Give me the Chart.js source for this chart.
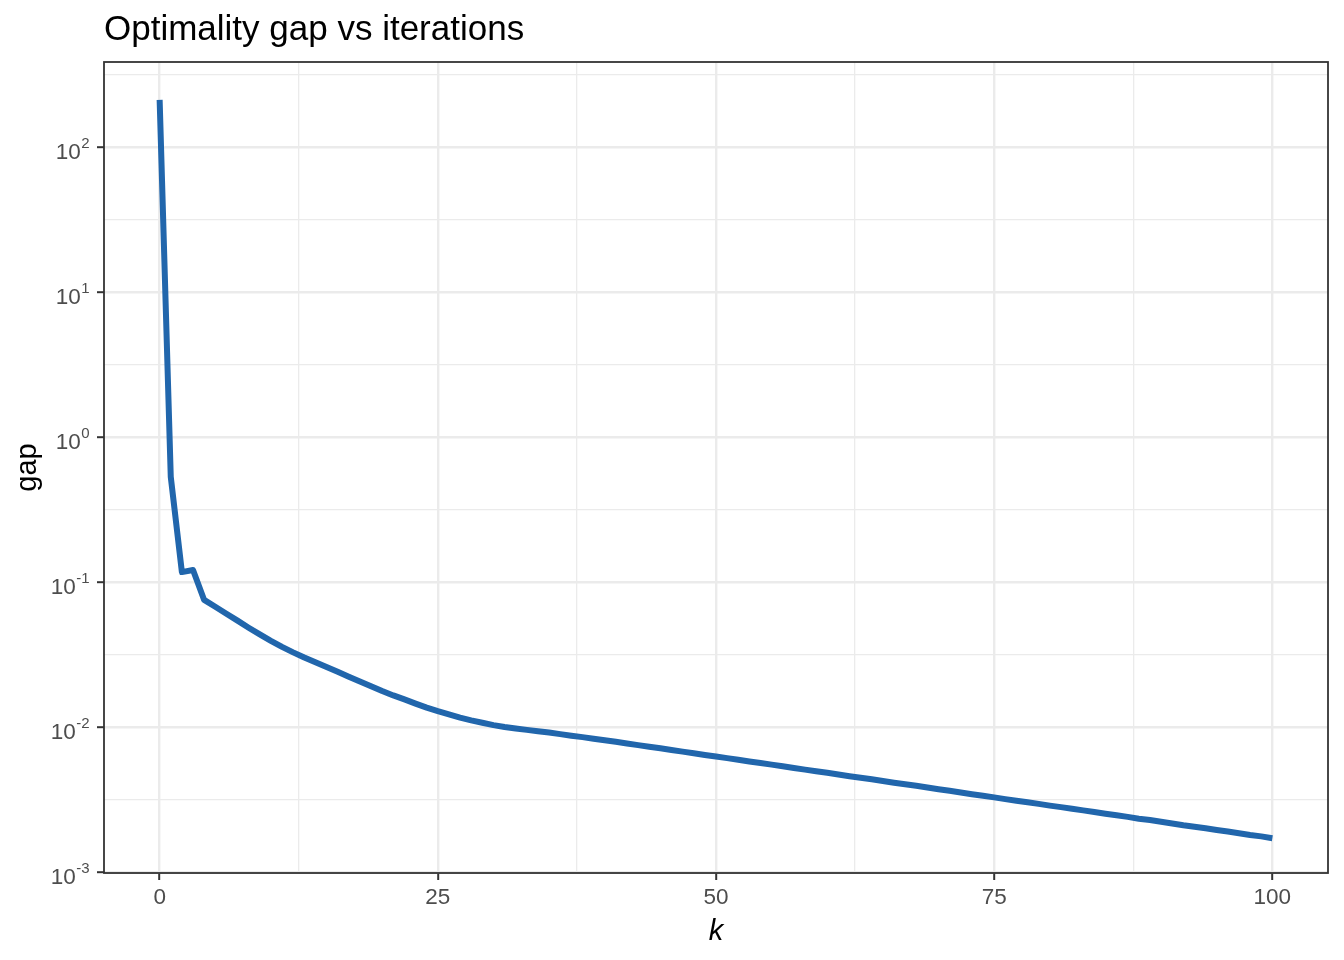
<!DOCTYPE html>
<html>
<head>
<meta charset="utf-8">
<script src="https://cdn.jsdelivr.net/npm/chart.js@4"></script>
<style>
  html, body { margin: 0; padding: 0; background: #fff; }
  #wrap { width: 1344px; height: 960px; }
</style>
</head>
<body>
<div id="wrap"><canvas id="gapChart" width="1344" height="960"></canvas></div>
<script>
const TITLE = 'Optimality gap vs iterations';
const X_LABEL = 'k';
const Y_LABEL = 'gap';

// optimality gap per iteration k = 0..100
const gap = [
  211, 0.530, 0.117, 0.121, 0.0752, 0.0675, 0.0604, 0.0541, 0.0484, 0.0435,
  0.0393, 0.0357, 0.0327, 0.0301, 0.0279, 0.0259, 0.0240, 0.0222, 0.0206, 0.0191,
  0.0177, 0.0165, 0.0155, 0.0145, 0.0136, 0.01285, 0.0122, 0.0116, 0.0111, 0.0107,
  0.0103, 0.0100, 0.00977, 0.00955, 0.00935, 0.00916, 0.00893, 0.00871, 0.00851, 0.00830,
  0.00810, 0.00790, 0.00769, 0.00750, 0.00731, 0.00713, 0.00693, 0.00676, 0.00659, 0.00641,
  0.00625, 0.00610, 0.00594, 0.00578, 0.00564, 0.00550, 0.00536, 0.00521, 0.00508, 0.00495,
  0.00483, 0.00470, 0.00458, 0.00447, 0.00436, 0.00424, 0.00413, 0.00403, 0.00393, 0.00382,
  0.00372, 0.00363, 0.00353, 0.00344, 0.00336, 0.00327, 0.00318, 0.00310, 0.00303, 0.00295,
  0.00287, 0.00280, 0.00273, 0.00266, 0.00259, 0.00252, 0.00246, 0.00240, 0.00233, 0.00228,
  0.00222, 0.00216, 0.00210, 0.00205, 0.00200, 0.00195, 0.00190, 0.00185, 0.00180, 0.00176,
  0.00171
];

const xMajor = [0, 25, 50, 75, 100];
const xMinor = [12.5, 37.5, 62.5, 87.5];
const yExps = [-3, -2, -1, 0, 1, 2];
const yMinorExps = [-2.5, -1.5, -0.5, 0.5, 1.5, 2.5];

const FONT = '"Liberation Sans", Arial, Helvetica, sans-serif';
const GRID = '#ebebeb';
const INK = '#333333';

const points = gap.map((v, i) => ({ x: i, y: v }));

function isMajorY(v) {
  const l = Math.log10(v);
  return Math.abs(l - Math.round(l)) < 0.01;
}

const decor = {
  id: 'decor',
  afterDraw(chart) {
    const c = chart.ctx;
    const a = chart.chartArea;
    const ys = chart.scales.y;
    c.save();
    // panel border
    c.strokeStyle = INK;
    c.lineWidth = 1.8;
    c.strokeRect(a.left, a.top, a.right - a.left, a.bottom - a.top);

    // y tick labels 10^e
    c.fillStyle = '#4d4d4d';
    c.textBaseline = 'alphabetic';
    yExps.forEach(e => {
      const py = ys.getPixelForValue(Math.pow(10, e));
      const exp = String(e);
      c.font = '15px ' + FONT;
      const ew = c.measureText(exp).width;
      const right = 89.5;
      c.textAlign = 'left';
      c.fillText(exp, right - ew, py + 1);
      c.font = '22.5px ' + FONT;
      c.textAlign = 'right';
      c.fillText('10', right - ew - 0.5, py + 12);
    });

    // title
    c.fillStyle = '#000';
    c.font = '35px ' + FONT;
    c.textAlign = 'left';
    c.fillText(TITLE, 104, 40);

    // axis titles
    c.font = 'italic 29px ' + FONT;
    c.textAlign = 'center';
    c.fillText(X_LABEL, (a.left + a.right) / 2, 940);
    c.font = '29px ' + FONT;
    c.translate(36, (a.top + a.bottom) / 2);
    c.rotate(-Math.PI / 2);
    c.fillText(Y_LABEL, 0, 0);
    c.restore();
  }
};

new Chart(document.getElementById('gapChart').getContext('2d'), {
  type: 'line',
  data: {
    datasets: [{
      label: Y_LABEL,
      data: points,
      borderColor: '#2166ac',
      borderWidth: 6,
      borderCapStyle: 'butt',
      borderJoinStyle: 'round',
      pointRadius: 0,
      fill: false,
      tension: 0
    }]
  },
  options: {
    responsive: false,
    animation: false,
    devicePixelRatio: 1,
    layout: { padding: { left: 0, right: 16, top: 62, bottom: 0 } },
    plugins: { legend: { display: false }, tooltip: { enabled: false } },
    scales: {
      x: {
        type: 'linear',
        min: -5,
        max: 105,
        afterBuildTicks: s => { s.ticks = xMajor.concat(xMinor).sort((p, q) => p - q).map(v => ({ value: v })); },
        afterFit: s => { s.height = 87; },
        border: { display: false },
        grid: {
          color: GRID,
          lineWidth: ctx => xMajor.includes(ctx.tick.value) ? 2.4 : 1.3,
          tickColor: ctx => xMajor.includes(ctx.tick.value) ? INK : 'rgba(0,0,0,0)',
          tickLength: 7,
          tickWidth: 2
        },
        ticks: {
          autoSkip: false,
          maxRotation: 0,
          padding: 4,
          color: '#4d4d4d',
          font: { family: FONT, size: 22.5 },
          callback: v => xMajor.includes(v) ? String(v) : ''
        }
      },
      y: {
        type: 'logarithmic',
        min: Math.pow(10, -3.007),
        max: Math.pow(10, 2.586),
        afterBuildTicks: s => {
          s.ticks = yExps.concat(yMinorExps).sort((p, q) => p - q).map(e => ({ value: Math.pow(10, e) }));
        },
        afterFit: s => { s.width = 104; },
        border: { display: false },
        grid: {
          color: GRID,
          lineWidth: ctx => isMajorY(ctx.tick.value) ? 2.4 : 1.3,
          tickColor: ctx => isMajorY(ctx.tick.value) ? INK : 'rgba(0,0,0,0)',
          tickLength: 7,
          tickWidth: 2
        },
        ticks: {
          autoSkip: false,
          display: true,
          color: 'rgba(0,0,0,0)',
          font: { family: FONT, size: 1 },
          callback: () => ''
        }
      }
    }
  },
  plugins: [decor]
});
</script>
</body>
</html>
